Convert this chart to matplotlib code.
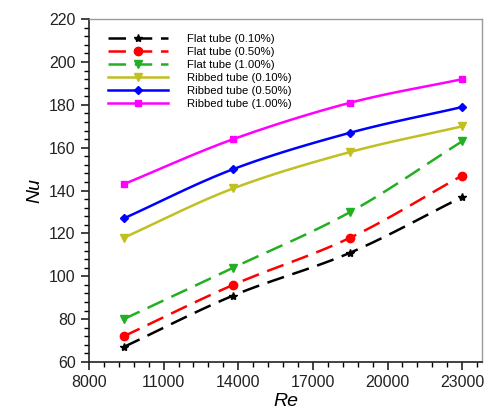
import numpy as np
import matplotlib
matplotlib.use("Agg")
import matplotlib.pyplot as plt
from matplotlib.ticker import FixedLocator
from matplotlib.lines import Line2D

plt.rcParams['font.family'] = ['Liberation Sans', 'DejaVu Sans']

re_values = [9400, 13800, 18500, 23000]

flat_010 = [67, 91, 111, 137]
flat_050 = [72, 96, 118, 147]
flat_100 = [80, 104, 130, 163]
ribbed_010 = [118, 141, 158, 170]
ribbed_050 = [127, 150, 167, 179]
ribbed_100 = [143, 164, 181, 192]

labels = ["Flat tube (0.10%)", "Flat tube (0.50%)", "Flat tube (1.00%)",
          "Ribbed tube (0.10%)", "Ribbed tube (0.50%)", "Ribbed tube (1.00%)"]
series = [flat_010, flat_050, flat_100, ribbed_010, ribbed_050, ribbed_100]
colors = ["#000000", "#ff0000", "#22b022", "#c0c020", "#0000ff", "#ff00ff"]
markers = ["*", "o", "v", "v", "D", "s"]
msizes = [6, 6, 5.5, 5.5, 4.5, 5]
dashed = [True, True, True, False, False, False]


def smooth(x, y, n=40):
    """Catmull-Rom curve through the points, for drawing the connecting line."""
    x = np.asarray(x, float)
    y = np.asarray(y, float)
    px = np.concatenate([[2 * x[0] - x[1]], x, [2 * x[-1] - x[-2]]])
    py = np.concatenate([[2 * y[0] - y[1]], y, [2 * y[-1] - y[-2]]])
    xs, ys = [], []
    t = np.linspace(0, 1, n)
    for i in range(1, len(px) - 2):
        for arr, out in ((px, xs), (py, ys)):
            p0, p1, p2, p3 = arr[i - 1], arr[i], arr[i + 1], arr[i + 2]
            seg = 0.5 * ((2 * p1) + (-p0 + p2) * t
                         + (2 * p0 - 5 * p1 + 4 * p2 - p3) * t ** 2
                         + (-p0 + 3 * p1 - 3 * p2 + p3) * t ** 3)
            out.append(seg if i == 1 else seg[1:])
    return np.concatenate(xs), np.concatenate(ys)


fig = plt.figure(figsize=(4.86, 4.17), dpi=100)
ax = fig.add_axes([0.183, 0.132, 0.809, 0.822])

handles = []
for vals, c, m, ms, d, lab in zip(series, colors, markers, msizes, dashed, labels):
    ls = (0, (7, 3.5)) if d else '-'
    sx, sy = smooth(re_values, vals)
    ax.plot(sx, sy, color=c, lw=1.8, linestyle=ls, zorder=2)
    ax.plot(re_values, vals, linestyle='none', marker=m, color=c, ms=ms, zorder=3)
    handles.append(Line2D([], [], color=c, lw=1.8, linestyle=ls, marker=m, ms=ms, label=lab))

ax.set_xlim(8000, 23800)
ax.set_ylim(60, 220)
ax.xaxis.set_major_locator(FixedLocator(np.arange(8000, 23801, 3000)))
ax.xaxis.set_minor_locator(FixedLocator(np.arange(8000, 23801, 600)))
ax.yaxis.set_major_locator(FixedLocator(np.arange(60, 221, 20)))
ax.yaxis.set_minor_locator(FixedLocator(np.arange(60, 221, 4)))
ax.tick_params(which='major', direction='out', length=6, width=1.2, labelsize=11.5, colors='#222222')
ax.tick_params(which='minor', direction='out', length=3.5, width=1.0)

for s in ('left', 'bottom'):
    ax.spines[s].set_color('#222222')
    ax.spines[s].set_linewidth(1.2)
for s in ('top', 'right'):
    ax.spines[s].set_color('#999999')
    ax.spines[s].set_linewidth(1.0)

ax.set_xlabel('Re', fontsize=14, style='italic', labelpad=2)
ax.set_ylabel('Nu', fontsize=14, style='italic', labelpad=4)

ax.legend(handles=handles, loc='upper left', bbox_to_anchor=(0.03, 0.977), frameon=False,
          fontsize=8.2, handlelength=5.3, handletextpad=1.7, labelspacing=0.27,
          borderaxespad=0.2)

fig.savefig('out.png', dpi=100)
